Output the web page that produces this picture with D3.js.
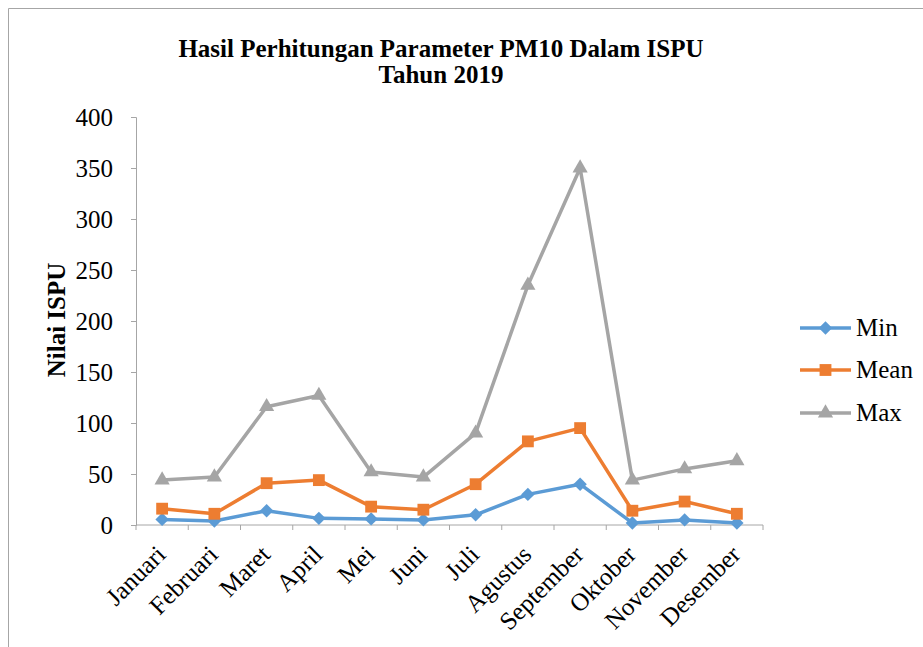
<!DOCTYPE html>
<html>
<head>
<meta charset="utf-8">
<script src="https://cdn.jsdelivr.net/npm/d3@7"></script>
<style>
  body { margin: 0; background: #fff; }
  svg { display: block; font-family: "Liberation Serif", "Times New Roman", serif; }
</style>
</head>
<body>
<div id="chart"></div>
<script>
const months = ['Januari', 'Februari', 'Maret', 'April', 'Mei', 'Juni', 'Juli',
    'Agustus', 'September', 'Oktober', 'November', 'Desember'];
const minVals = [5.5, 4, 14, 6.5, 6, 5, 10, 30, 40, 2, 5, 2];
const meanVals = [16, 11, 41, 44, 18, 15, 40, 82, 95, 14, 23, 11];
const maxVals = [44, 47, 116, 127, 52, 47, 90, 235, 350, 44, 55, 63];
const yTicks = [0, 50, 100, 150, 200, 250, 300, 350, 400];

const series = [
    { name: 'Min', values: minVals, color: '#5B9BD5', symbol: d3.symbolSquare, size: 90, rot: 45 },
    { name: 'Mean', values: meanVals, color: '#ED7D31', symbol: d3.symbolSquare, size: 140, rot: 0 },
    { name: 'Max', values: maxVals, color: '#A5A5A5', symbol: d3.symbolTriangle, size: 100, rot: 0 }
];

const width = 923, height = 647;
const plot = { left: 136, right: 763, top: 117, bottom: 525 };
const axisColor = '#A6A6A6';
const fontSize = '25px';

const svg = d3.select('#chart').append('svg')
    .attr('width', width).attr('height', height);

// outer frame of the chart area
svg.append('path')
    .attr('d', `M8.5 ${height} V8.5 H${width}`)
    .attr('fill', 'none').attr('stroke', '#A6A6A6').attr('stroke-width', 1);

const x = d3.scaleBand().domain(months).range([plot.left, plot.right]);
const y = d3.scaleLinear().domain([0, 400]).range([plot.bottom, plot.top]);

// title
svg.append('text')
    .attr('x', 441).attr('y', 57)
    .attr('text-anchor', 'middle')
    .style('font-size', '25px').style('font-weight', 'bold')
    .text('Hasil Perhitungan Parameter PM10 Dalam ISPU');
svg.append('text')
    .attr('x', 441).attr('y', 83)
    .attr('text-anchor', 'middle')
    .style('font-size', '25px').style('font-weight', 'bold')
    .text('Tahun 2019');

// y axis
const yAxis = svg.append('g')
    .attr('transform', `translate(${plot.left},0)`)
    .call(d3.axisLeft(y).tickValues(yTicks).tickSize(5).tickPadding(18));
yAxis.select('.domain').attr('stroke', axisColor);
yAxis.selectAll('.tick line').attr('stroke', axisColor);
yAxis.selectAll('.tick text')
    .attr('fill', '#000')
    .style('font-family', '"Liberation Serif", serif')
    .style('font-size', fontSize);

svg.append('text')
    .attr('transform', 'translate(65,320) rotate(-90)')
    .attr('text-anchor', 'middle')
    .style('font-size', fontSize).style('font-weight', 'bold')
    .text('Nilai ISPU');

// x axis, ticks between categories
const xAxisG = svg.append('g').attr('transform', `translate(0,${plot.bottom})`);
xAxisG.append('line')
    .attr('x1', plot.left).attr('x2', plot.right)
    .attr('stroke', axisColor);
const edges = months.map(m => x(m)).concat([x.range()[1]]);
xAxisG.selectAll('line.tk').data(edges).join('line')
    .attr('class', 'tk')
    .attr('x1', d => d).attr('x2', d => d)
    .attr('y1', 0).attr('y2', 5)
    .attr('stroke', axisColor);
xAxisG.selectAll('text').data(months).join('text')
    .attr('transform', d => `translate(${x(d) + x.bandwidth() / 2 + 5},31) rotate(-45)`)
    .attr('text-anchor', 'end')
    .style('font-size', fontSize)
    .text(d => d);

// lines
const line = d3.line()
    .x((d, i) => x(months[i]) + x.bandwidth() / 2)
    .y(d => y(d));

series.forEach(s => {
    svg.append('path')
        .datum(s.values)
        .attr('fill', 'none')
        .attr('stroke', s.color)
        .attr('stroke-width', 3.5)
        .attr('stroke-linejoin', 'round')
        .attr('d', line);
});

series.forEach(s => {
    svg.append('g').selectAll('path').data(s.values).join('path')
        .attr('transform', (d, i) => `translate(${x(months[i]) + x.bandwidth() / 2},${y(d)}) rotate(${s.rot})`)
        .attr('d', d3.symbol().type(s.symbol).size(s.size))
        .attr('fill', s.color);
});

// legend
const legend = svg.append('g').attr('transform', 'translate(800,0)');
const legendY = [328, 370, 413];
series.forEach((s, i) => {
    const g = legend.append('g').attr('transform', `translate(0,${legendY[i]})`);
    g.append('line')
        .attr('x1', 0).attr('x2', 51)
        .attr('stroke', s.color).attr('stroke-width', 3.5);
    g.append('path')
        .attr('transform', `translate(25.5,0) rotate(${s.rot})`)
        .attr('d', d3.symbol().type(s.symbol).size(s.size))
        .attr('fill', s.color);
    g.append('text')
        .attr('x', 56).attr('y', 0).attr('dy', '0.33em')
        .style('font-size', fontSize)
        .text(s.name);
});
</script>
</body>
</html>
